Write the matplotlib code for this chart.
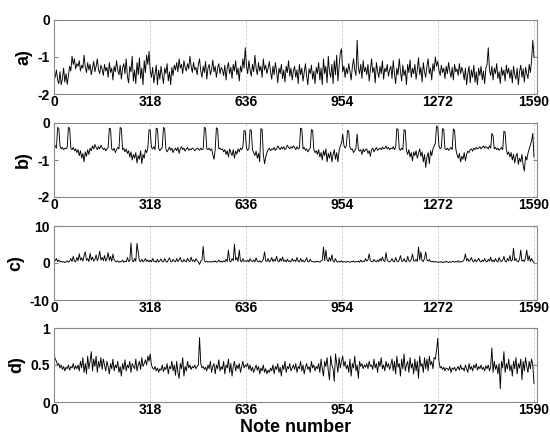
import numpy as np
import matplotlib
matplotlib.use("Agg")
import matplotlib.pyplot as plt

plt.rcParams['font.family'] = ['Liberation Sans', 'DejaVu Sans']

x_ticks = [0, 318, 636, 954, 1272, 1590]
n_notes = 1590

series_a = [
    -1.48, -1.55, -1.35, -1.62, -1.72, -1.40, -1.75, -1.58, -1.30, -1.68, -1.45, -1.74, -1.50, -1.25, -1.38, -0.98, -1.20, -1.05, -1.32, -1.18,
    -1.25, -1.10, -1.38, -1.22, -1.30, -0.95, -1.28, -1.42, -1.15, -1.35, -1.20, -1.48, -1.30, -1.12, -1.40, -1.25, -1.05, -1.35, -1.45, -1.22,
    -1.32, -1.50, -1.20, -1.38, -1.28, -1.55, -1.15, -1.42, -1.30, -1.62, -1.25, -1.40, -1.10, -1.35, -1.48, -1.22, -1.60, -1.30, -1.18, -1.45,
    -1.05, -1.52, -1.70, -1.25, -1.40, -0.98, -1.65, -1.35, -1.72, -1.15, -1.48, -1.02, -1.58, -1.30, -1.75, -1.10, -1.42, -0.95, -1.20, -0.85,
    -1.38, -1.55, -1.28, -1.70, -1.45, -1.22, -1.75, -1.35, -1.60, -1.25, -1.50, -1.72, -1.30, -1.45, -1.18, -1.65, -1.40, -1.75, -1.28, -1.50,
    -1.22, -1.35, -1.15, -1.40, -1.05, -1.30, -1.20, -1.45, -1.10, -1.28, -1.38, -1.18, -1.32, -0.98, -1.25, -1.42, -1.15, -1.35, -1.28, -1.48,
    -1.20, -1.05, -1.38, -1.55, -1.25, -1.42, -1.12, -1.60, -1.30, -1.20, -1.48, -1.35, -1.08, -1.40, -1.25, -1.55, -1.30, -1.18, -1.45, -1.28,
    -1.35, -1.50, -1.22, -1.62, -1.30, -1.15, -1.45, -1.28, -1.58, -1.20, -1.38, -1.10, -1.48, -1.30, -1.65, -1.25, -1.40, -1.05, -1.30, -0.75,
    -1.25, -1.45, -1.10, -1.35, -1.52, -1.20, -1.40, -0.95, -1.30, -1.48, -1.15, -1.38, -1.25, -1.55, -1.05, -1.35, -1.22, -1.45, -1.30, -1.12,
    -1.40, -1.60, -1.25, -1.48, -1.15, -1.38, -1.70, -1.30, -1.45, -1.20, -1.58, -1.35, -1.68, -1.25, -1.42, -1.10, -1.52, -1.30, -1.62, -1.38,
    -1.25, -1.55, -1.35, -1.72, -1.20, -1.48, -1.30, -1.65, -1.42, -1.18, -1.50, -1.75, -1.32, -1.45, -1.22, -1.60, -1.38, -1.72, -1.28, -1.45,
    -1.15, -1.62, -1.30, -1.75, -1.05, -1.45, -1.25, -1.70, -0.98, -1.40, -1.55, -1.20, -1.72, -1.10, -1.48, -0.95, -1.65, -1.25, -0.90, -0.78,
    -1.40, -1.25, -1.55, -1.30, -1.45, -1.18, -1.38, -1.62, -1.28, -1.05, -1.35, -1.50, -0.55, -1.30, -1.45, -1.20, -1.58, -1.10, -1.40, -1.28,
    -1.48, -1.20, -1.65, -1.35, -1.05, -1.42, -1.28, -1.70, -1.15, -1.38, -1.55, -1.25, -1.45, -1.10, -1.60, -1.30, -1.40, -1.20, -1.52, -1.35,
    -1.25, -1.58, -1.10, -1.45, -1.72, -1.30, -1.48, -1.05, -1.38, -1.65, -1.22, -1.50, -1.35, -1.75, -1.20, -1.42, -1.08, -1.55, -1.30, -1.45,
    -1.20, -1.60, -1.35, -1.02, -1.48, -1.28, -1.68, -1.15, -1.40, -1.55, -1.25, -1.05, -1.45, -1.30, -1.62, -1.18, -1.38, -1.00, -1.25, -1.12,
    -1.35, -1.50, -1.22, -1.42, -1.30, -1.58, -1.25, -1.45, -1.15, -1.38, -1.55, -1.28, -1.62, -1.20, -1.40, -1.32, -1.50, -1.18, -1.45, -1.28,
    -1.40, -1.62, -1.30, -1.75, -1.45, -1.25, -1.70, -1.35, -1.55, -1.22, -1.68, -1.40, -1.75, -1.30, -1.50, -1.25, -1.62, -1.38, -1.72, -1.30,
    -1.20, -0.75, -1.35, -1.50, -1.25, -1.62, -1.30, -1.45, -1.18, -1.58, -1.40, -1.72, -1.28, -1.50, -1.35, -1.65, -1.22, -1.45, -1.30, -1.58,
    -1.35, -1.70, -1.25, -1.48, -1.60, -1.30, -1.75, -1.40, -1.22, -1.55, -1.32, -1.68, -1.28, -1.45, -1.58, -1.20, -1.42, -1.10, -0.55, -1.00,
]

series_b = [
    -0.55, -0.62, -0.68, -0.12, -0.15, -0.62, -0.70, -0.66, -0.72, -0.68, -0.70, -0.65, -0.12, -0.14, -0.68, -0.72, -0.66, -0.75, -0.70, -0.80,
    -0.72, -0.88, -0.75, -0.95, -0.82, -1.05, -0.78, -0.90, -0.72, -0.85, -0.68, -0.75, -0.62, -0.70, -0.58, -0.66, -0.72, -0.64, -0.70, -0.60,
    -0.66, -0.72, -0.68, -0.75, -0.70, -0.66, -0.14, -0.16, -0.70, -0.74, -0.68, -0.80, -0.72, -0.66, -0.70, -0.12, -0.15, -0.72, -0.68, -0.78,
    -0.70, -0.82, -0.75, -0.92, -0.78, -1.00, -0.85, -0.95, -0.80, -1.08, -0.88, -0.98, -0.75, -1.10, -0.85, -0.95, -0.72, -0.80, -0.68, -0.18,
    -0.20, -0.66, -0.70, -0.64, -0.72, -0.14, -0.16, -0.68, -0.75, -0.70, -0.66, -0.12, -0.15, -0.70, -0.78, -0.72, -0.65, -0.74, -0.68, -0.80,
    -0.72, -0.68, -0.75, -0.66, -0.82, -0.70, -0.64, -0.72, -0.68, -0.76, -0.70, -0.66, -0.74, -0.70, -0.72, -0.68, -0.70, -0.75, -0.72, -0.68,
    -0.70, -0.74, -0.68, -0.72, -0.70, -0.12, -0.14, -0.70, -0.72, -0.68, -0.74, -0.70, -0.85, -0.98, -0.72, -0.13, -0.16, -0.70, -0.68, -0.72,
    -0.70, -0.78, -0.72, -0.85, -0.75, -0.92, -0.70, -0.80, -0.88, -0.72, -0.95, -0.76, -0.84, -0.70, -0.78, -0.68, -0.72, -0.65, -0.20, -0.22,
    -0.68, -0.74, -0.70, -0.18, -0.20, -0.72, -0.80, -0.88, -0.76, -0.95, -0.82, -1.05, -0.15, -0.18, -0.85, -1.10, -0.92, -0.80, -0.72, -0.68,
    -0.75, -0.70, -0.72, -0.66, -0.74, -0.70, -0.62, -0.68, -0.72, -0.65, -0.70, -0.64, -0.72, -0.68, -0.60, -0.66, -0.70, -0.64, -0.68, -0.62,
    -0.66, -0.72, -0.64, -0.70, -0.68, -0.14, -0.16, -0.70, -0.66, -0.74, -0.70, -0.78, -0.72, -0.68, -0.18, -0.20, -0.72, -0.80, -0.75, -0.85,
    -0.72, -0.92, -0.80, -1.00, -0.75, -0.88, -0.70, -1.05, -0.82, -0.95, -0.78, -1.05, -0.85, -0.72, -0.98, -0.80, -1.05, -0.75, -0.62, -0.55,
    -0.30, -0.60, -0.68, -0.62, -0.20, -0.22, -0.66, -0.72, -0.70, -0.80, -0.74, -0.68, -0.30, -0.70, -0.76, -0.72, -0.85, -0.70, -0.78, -0.72,
    -0.70, -0.82, -0.75, -0.90, -0.72, -0.68, -0.78, -0.72, -0.66, -0.74, -0.70, -0.68, -0.72, -0.65, -0.70, -0.68, -0.62, -0.70, -0.66, -0.72,
    -0.68, -0.70, -0.64, -0.72, -0.66, -0.15, -0.18, -0.70, -0.74, -0.68, -0.72, -0.18, -0.20, -0.75, -0.85, -0.72, -0.92, -0.80, -1.02, -0.78,
    -0.88, -0.75, -0.95, -0.82, -0.70, -0.90, -0.78, -1.05, -0.85, -1.20, -0.92, -0.80, -1.10, -0.75, -0.88, -0.70, -0.62, -0.55, -0.08, -0.12,
    -0.62, -0.70, -0.66, -0.15, -0.18, -0.70, -0.72, -0.68, -0.74, -0.70, -0.66, -0.72, -0.16, -0.20, -0.70, -0.85, -0.95, -0.82, -1.05, -0.90,
    -0.98, -0.80, -1.02, -0.85, -0.76, -0.80, -0.72, -0.70, -0.76, -0.68, -0.72, -0.66, -0.70, -0.68, -0.64, -0.70, -0.66, -0.62, -0.68, -0.64,
    -0.66, -0.70, -0.62, -0.68, -0.28, -0.35, -0.70, -0.66, -0.72, -0.68, -0.74, -0.70, -0.66, -0.72, -0.22, -0.25, -0.72, -0.85, -0.78, -0.92,
    -0.80, -1.00, -0.85, -1.08, -0.90, -0.82, -1.12, -0.95, -1.05, -0.85, -1.15, -1.30, -0.90, -1.00, -0.82, -0.70, -0.60, -0.48, -0.28, -0.92,
]

series_c = [
    1.0, 0.6, 1.2, 0.4, 0.8, 0.3, 0.5, 0.2, 0.4, 0.1, 0.3, 0.6, 0.2, 0.5, 1.2, 0.4, 1.8, 0.5, 0.3, 1.5,
    0.6, 2.5, 0.8, 1.4, 0.5, 2.0, 3.0, 0.7, 1.2, 0.4, 2.6, 0.8, 1.6, 0.5, 1.0, 2.2, 0.6, 1.4, 3.2, 0.8,
    1.5, 0.6, 2.0, 0.5, 1.2, 2.8, 0.7, 1.8, 0.4, 2.4, 0.9, 0.5, 0.3, 0.6, 0.2, 0.4, 0.3, 0.8, 0.2, 0.5,
    0.3, 1.5, 0.4, 0.6, 5.4, 0.8, 0.3, 1.2, 0.5, 5.3, 3.0, 0.6, 0.4, 1.0, 0.3, 0.6, 1.2, 0.4, 0.8, 0.3,
    0.8, 0.3, 1.2, 0.4, 0.5, 0.2, 1.0, 0.3, 0.6, 1.1, 0.4, 0.3, 1.2, 0.5, 0.2, 0.8, 1.4, 0.4, 0.3, 1.0,
    0.5, 0.3, 1.2, 0.4, 0.8, 1.5, 0.4, 0.3, 1.0, 0.5, 0.3, 1.3, 0.6, 0.4, 1.6, 0.5, 0.8, 0.3, 1.2, 0.6,
    0.3, -0.4, 0.5, 0.8, 4.5, 0.6, 0.3, 0.5, 0.2, 0.4, 0.3, 0.2, 0.5, 0.3, 0.6, 0.2, 0.4, 0.8, 0.3, 0.5,
    0.2, 0.6, 0.3, 1.0, 0.4, 3.5, 0.5, 0.3, 1.2, 0.6, 5.1, 0.8, 1.5, 0.4, 3.5, 0.6, 0.3, 1.2, 0.4, 0.6,
    0.4, 0.8, 0.3, 1.2, 0.5, 0.4, 0.8, 0.3, 1.4, 0.5, 0.3, 0.6, 0.2, 0.5, 1.0, 3.0, 0.6, 0.4, 1.2, 0.3,
    0.6, 1.5, 0.4, 1.0, 0.5, 1.8, 0.6, 0.3, 1.2, 0.5, 1.6, 0.4, 0.8, 0.3, 1.0, 0.4, 0.6, 0.3, 1.2, 0.5,
    0.8, 0.4, 1.5, 0.5, 0.3, 1.2, 0.4, 0.8, 0.3, 0.6, 1.4, 0.4, 0.3, 1.0, 0.5, 0.3, 0.4, 0.2, 0.5, 0.3,
    0.4, 0.2, 0.6, 0.8, 4.3, 0.6, 3.5, 0.8, 0.4, 1.5, 0.5, 2.2, 0.6, 0.3, 1.2, 0.4, 0.2, 0.5, 0.3, 0.6,
    0.2, 0.4, 0.3, 0.2, 0.5, 0.3, 0.2, 0.4, 0.3, 0.6, 0.2, 0.4, 0.3, 0.5, 0.2, 0.8, 0.3, 0.5, 0.4, 1.2,
    0.5, 0.8, 2.5, 0.6, 0.4, 0.3, 1.0, 0.5, 0.3, 0.8, 0.4, 1.2, 0.5, 1.6, 0.6, 0.4, 2.8, 0.8, 0.4, 0.3,
    0.6, 1.2, 0.4, 0.3, 1.5, 0.5, 0.3, 0.8, 2.0, 0.6, 0.4, 1.2, 0.5, 0.3, 1.8, 0.6, 0.4, 1.0, 2.4, 0.6,
    0.5, 1.0, 0.4, 4.3, 0.8, 3.0, 0.6, 0.4, 1.2, 3.0, 0.8, 0.5, 1.0, 0.4, 0.3, 0.5, 0.2, 0.4, 0.3, 0.2,
    0.3, 0.2, 0.4, 0.1, 0.3, 0.2, 0.5, 0.3, 0.1, 0.4, 0.2, 0.3, 0.5, 0.2, 0.4, 0.3, 0.6, 0.2, 0.4, 0.3,
    0.5, 1.0, 2.5, 0.6, 1.2, 0.4, 0.8, 1.5, 0.5, 0.3, 1.0, 0.4, 0.6, 1.3, 0.5, 0.3, 0.8, 0.4, 1.2, 0.5,
    0.3, 1.0, 0.5, 1.6, 0.4, 0.8, 0.3, 1.2, 0.5, 0.3, 1.5, 0.6, 0.4, 0.8, 1.8, 0.5, 0.3, 1.2, 0.6, 2.0,
    0.5, 0.8, 4.0, 0.6, 1.2, 0.5, 0.3, 1.0, 3.5, 0.5, 0.8, 0.4, 1.5, 3.5, 0.6, 2.0, 0.4, 1.2, 0.5, 0.2,
]

series_d = [
    0.65, 0.58, 0.55, 0.50, 0.52, 0.46, 0.50, 0.44, 0.48, 0.42, 0.47, 0.45, 0.50, 0.43, 0.48, 0.46, 0.52, 0.44, 0.49, 0.45,
    0.50, 0.42, 0.55, 0.46, 0.60, 0.40, 0.52, 0.38, 0.62, 0.45, 0.55, 0.68, 0.42, 0.58, 0.48, 0.62, 0.40, 0.55, 0.47, 0.60,
    0.44, 0.58, 0.50, 0.42, 0.55, 0.48, 0.38, 0.52, 0.45, 0.58, 0.42, 0.50, 0.46, 0.55, 0.40, 0.48, 0.35, 0.52, 0.44, 0.57,
    0.42, 0.50, 0.46, 0.55, 0.40, 0.52, 0.48, 0.45, 0.58, 0.42, 0.50, 0.55, 0.44, 0.60, 0.48, 0.52, 0.57, 0.50, 0.62, 0.55,
    0.65, 0.50, 0.46, 0.44, 0.48, 0.42, 0.46, 0.40, 0.45, 0.43, 0.50, 0.41, 0.47, 0.44, 0.52, 0.38, 0.48, 0.45, 0.55, 0.42,
    0.50, 0.36, 0.55, 0.40, 0.32, 0.52, 0.45, 0.60, 0.35, 0.48, 0.42, 0.55, 0.46, 0.50, 0.44, 0.48, 0.46, 0.50, 0.45, 0.48,
    0.50, 0.87, 0.52, 0.46, 0.48, 0.44, 0.47, 0.42, 0.50, 0.45, 0.55, 0.40, 0.48, 0.52, 0.38, 0.50, 0.45, 0.57, 0.42, 0.48,
    0.44, 0.55, 0.38, 0.50, 0.46, 0.58, 0.40, 0.52, 0.35, 0.48, 0.55, 0.42, 0.50, 0.45, 0.52, 0.40, 0.48, 0.55, 0.46, 0.50,
    0.48, 0.52, 0.44, 0.50, 0.42, 0.47, 0.40, 0.45, 0.50, 0.43, 0.48, 0.38, 0.46, 0.42, 0.50, 0.40, 0.45, 0.38, 0.43, 0.40,
    0.46, 0.42, 0.50, 0.38, 0.48, 0.44, 0.52, 0.40, 0.47, 0.35, 0.50, 0.44, 0.55, 0.40, 0.48, 0.45, 0.52, 0.42, 0.46, 0.50,
    0.44, 0.52, 0.40, 0.48, 0.45, 0.55, 0.42, 0.50, 0.38, 0.47, 0.52, 0.44, 0.48, 0.40, 0.55, 0.46, 0.50, 0.42, 0.48, 0.45,
    0.52, 0.40, 0.58, 0.45, 0.35, 0.55, 0.48, 0.60, 0.42, 0.30, 0.62, 0.50, 0.45, 0.28, 0.65, 0.52, 0.40, 0.60, 0.46, 0.55,
    0.62, 0.48, 0.55, 0.45, 0.50, 0.40, 0.58, 0.35, 0.52, 0.46, 0.62, 0.42, 0.50, 0.32, 0.55, 0.48, 0.52, 0.45, 0.50, 0.47,
    0.52, 0.45, 0.55, 0.48, 0.50, 0.44, 0.58, 0.46, 0.52, 0.40, 0.55, 0.48, 0.60, 0.45, 0.50, 0.42, 0.55, 0.47, 0.52, 0.44,
    0.50, 0.58, 0.42, 0.55, 0.38, 0.62, 0.47, 0.52, 0.35, 0.58, 0.45, 0.65, 0.42, 0.50, 0.55, 0.40, 0.60, 0.46, 0.52, 0.38,
    0.58, 0.42, 0.55, 0.32, 0.62, 0.48, 0.52, 0.40, 0.60, 0.45, 0.58, 0.42, 0.62, 0.50, 0.55, 0.45, 0.60, 0.58, 0.70, 0.86,
    0.55, 0.46, 0.48, 0.44, 0.47, 0.42, 0.46, 0.45, 0.43, 0.48, 0.40, 0.46, 0.44, 0.47, 0.42, 0.45, 0.48, 0.43, 0.50, 0.44,
    0.46, 0.42, 0.50, 0.45, 0.40, 0.52, 0.44, 0.48, 0.42, 0.50, 0.46, 0.52, 0.43, 0.48, 0.45, 0.50, 0.44, 0.47, 0.42, 0.49,
    0.45, 0.50, 0.42, 0.48, 0.73, 0.40, 0.55, 0.44, 0.50, 0.38, 0.52, 0.18, 0.55, 0.46, 0.68, 0.40, 0.52, 0.45, 0.58, 0.42,
    0.50, 0.35, 0.55, 0.45, 0.60, 0.38, 0.52, 0.46, 0.58, 0.30, 0.55, 0.42, 0.60, 0.48, 0.40, 0.55, 0.45, 0.58, 0.50, 0.25,
]

panel_labels = ['a)', 'b)', 'c)', 'd)']
y_limits = [(-2, 0), (-2, 0), (-10, 10), (0, 1)]
y_ticks = [[-2, -1, 0], [-2, -1, 0], [-10, 0, 10], [0, 0.5, 1]]
y_ticklabels = [['-2', '-1', '0'], ['-2', '-1', '0'], ['-10', '0', '10'], ['0', '0.5', '1']]
all_series = [series_a, series_b, series_c, series_d]

fig = plt.figure(figsize=(5.5, 4.41), dpi=100)
W, H = 550, 441
tops = [20, 123, 226, 328]
ax_h = 74
left_px, right_px = 54, 537

for i in range(4):
    top = tops[i]
    ax = fig.add_axes([left_px / W, 1 - (top + ax_h) / H, (right_px - left_px) / W, ax_h / H])
    vals = np.array(all_series[i])
    xs = np.linspace(0, n_notes, len(vals))
    ax.plot(xs, vals, color='black', lw=0.65)
    ax.set_xlim(0, 1600)
    ax.set_ylim(*y_limits[i])
    ax.set_xticks(x_ticks)
    ax.set_xticklabels([str(t) for t in x_ticks], fontsize=10, fontweight='bold')
    ax.set_yticks(y_ticks[i])
    ax.set_yticklabels(y_ticklabels[i], fontsize=10, fontweight='bold')
    ax.grid(axis='x', color='#c8c8c8', linestyle=(0, (3, 2)), lw=0.6)
    ax.tick_params(axis='x', length=0, pad=1)
    ax.tick_params(axis='y', direction='in', length=3, right=True, pad=3, color='#888888')
    for s in ax.spines.values():
        s.set_color('#888888')
        s.set_linewidth(0.8)
    ax.set_ylabel(panel_labels[i], fontsize=13, fontweight='bold', labelpad=4)
    if i == 3:
        ax.set_xlabel('Note number', fontsize=13, fontweight='bold', labelpad=1)

fig.savefig('out.png', dpi=100)
